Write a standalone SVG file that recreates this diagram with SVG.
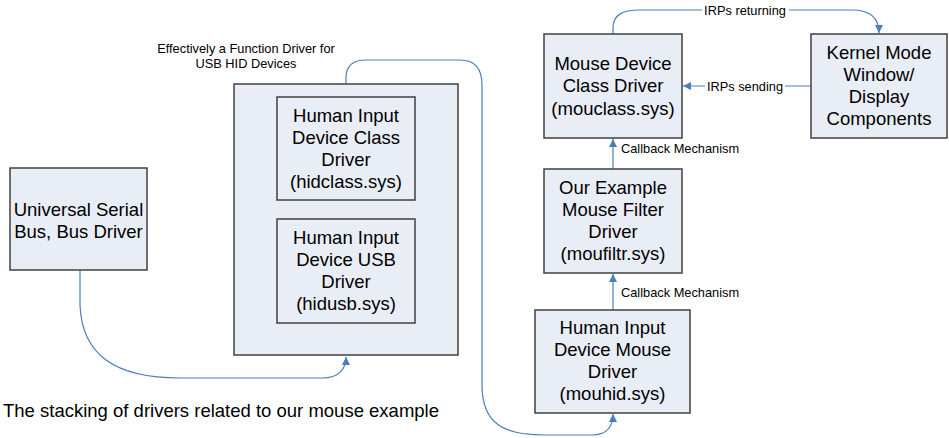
<svg xmlns="http://www.w3.org/2000/svg" width="949" height="438" viewBox="0 0 949 438">
<style>
.box{fill:#e9edf6;stroke:#404040;stroke-width:1.5}
.t{font-family:"Liberation Sans",Arial,sans-serif;font-size:18.5px;fill:#000;text-anchor:middle}
.s{font-family:"Liberation Sans",Arial,sans-serif;font-size:12.8px;fill:#000}
.c{fill:none;stroke:#4a7ebb;stroke-width:1.2}
</style>
<defs>
<marker id="ah" viewBox="0 0 10 10" refX="10" refY="5" markerWidth="8" markerHeight="8" markerUnits="userSpaceOnUse" orient="auto">
<path d="M0,0 L10,5 L0,10 z" fill="#4a7ebb"/>
</marker>
</defs>
<rect width="949" height="438" fill="#fff"/>
<g id="connectors">
<path class="c" d="M80,270 V305 C82,355 115,378 180,378 H322 C340,378 346,368 346,357" marker-end="url(#ah)"/>
<path class="c" d="M346,84 V78 C346,66 352,60 366,60 H460 C475,60 482,68 482,85 V385 C482,425 505,435 545,435 H592 C608,435 613,425 613,414" marker-end="url(#ah)"/>
<path class="c" d="M613,310 V274" marker-end="url(#ah)"/>
<path class="c" d="M613,169 V139" marker-end="url(#ah)"/>
<path class="c" d="M613,34 V28 C613,15 622,10 640,10 H852 C870,10 879,18 879,33" marker-end="url(#ah)"/>
<path class="c" d="M811,86 H683" marker-end="url(#ah)"/>
<rect x="702" y="3" width="87" height="14" fill="#fff"/>
<rect x="705" y="79" width="80" height="14" fill="#fff"/>
<text class="s" x="745" y="14.5" text-anchor="middle">IRPs returning</text>
<text class="s" x="745" y="90.5" text-anchor="middle">IRPs sending</text>
<text class="s" x="621" y="152.5">Callback Mechanism</text>
<text class="s" x="621" y="296.5">Callback Mechanism</text>
</g>
<g id="usb">
<rect class="box" x="10" y="168" width="137" height="102"/>
<text class="t" x="78.5" y="216">Universal Serial</text>
<text class="t" x="78.5" y="238">Bus, Bus Driver</text>
</g>
<g id="hid">
<rect class="box" x="234" y="84" width="224" height="271"/>
</g>
<g id="hidclass">
<rect class="box" x="277" y="97" width="138" height="103"/>
<text class="t" x="346" y="121.5">Human Input</text>
<text class="t" x="346" y="143.5">Device Class</text>
<text class="t" x="346" y="165.5">Driver</text>
<text class="t" x="346" y="187.5">(hidclass.sys)</text>
</g>
<g id="hidusb">
<rect class="box" x="277" y="219" width="138" height="104"/>
<text class="t" x="346" y="244">Human Input</text>
<text class="t" x="346" y="266">Device USB</text>
<text class="t" x="346" y="288">Driver</text>
<text class="t" x="346" y="310">(hidusb.sys)</text>
</g>
<g id="hidnote">
<text class="s" x="246" y="52.5" text-anchor="middle">Effectively a Function Driver for</text>
<text class="s" x="246" y="68" text-anchor="middle">USB HID Devices</text>
</g>
<g id="mouclass">
<rect class="box" x="544" y="34" width="138" height="104"/>
<text class="t" x="613" y="69.5">Mouse Device</text>
<text class="t" x="613" y="92">Class Driver</text>
<text class="t" x="613" y="114.5">(mouclass.sys)</text>
</g>
<g id="kernel">
<rect class="box" x="811" y="34" width="136" height="104"/>
<text class="t" x="879" y="59">Kernel Mode</text>
<text class="t" x="879" y="81">Window/</text>
<text class="t" x="879" y="103">Display</text>
<text class="t" x="879" y="125">Components</text>
</g>
<g id="moufiltr">
<rect class="box" x="544" y="169" width="138" height="104"/>
<text class="t" x="613" y="194">Our Example</text>
<text class="t" x="613" y="216">Mouse Filter</text>
<text class="t" x="613" y="238">Driver</text>
<text class="t" x="613" y="260">(moufiltr.sys)</text>
</g>
<g id="mouhid">
<rect class="box" x="535" y="310" width="155" height="103"/>
<text class="t" x="612.5" y="334">Human Input</text>
<text class="t" x="612.5" y="356">Device Mouse</text>
<text class="t" x="612.5" y="378">Driver</text>
<text class="t" x="612.5" y="400">(mouhid.sys)</text>
</g>
<g id="caption">
<text x="3" y="417" font-family="'Liberation Sans',Arial,sans-serif" font-size="18.5" fill="#000">The stacking of drivers related to our mouse example</text>
</g>
</svg>
